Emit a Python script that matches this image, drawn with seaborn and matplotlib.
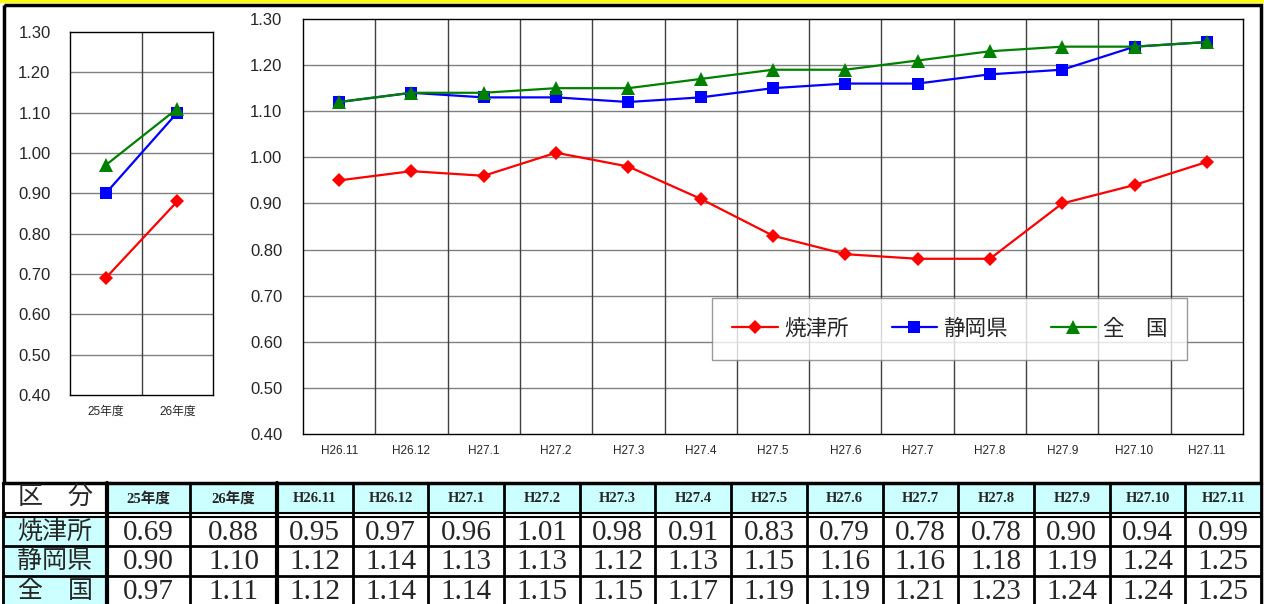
import matplotlib.pyplot as plt
import numpy as np
import pandas as pd
import seaborn as sns
from matplotlib.patches import Rectangle

series_names = ["焼津所", "静岡県", "全\u3000国"]
series_colors = ["#FF0000", "#0000FF", "#008000"]
series_markers = ["D", "s", "^"]
marker_sizes = [7.5, 8.5, 9.5]

years = ["25年度", "26年度"]
yaizu_year = [0.69, 0.88]
shizuoka_year = [0.90, 1.10]
zenkoku_year = [0.97, 1.11]

months = ["H26.11", "H26.12", "H27.1", "H27.2", "H27.3", "H27.4", "H27.5",
          "H27.6", "H27.7", "H27.8", "H27.9", "H27.10", "H27.11"]
yaizu_month = [0.95, 0.97, 0.96, 1.01, 0.98, 0.91, 0.83, 0.79, 0.78, 0.78, 0.90, 0.94, 0.99]
shizuoka_month = [1.12, 1.14, 1.13, 1.13, 1.12, 1.13, 1.15, 1.16, 1.16, 1.18, 1.19, 1.24, 1.25]
zenkoku_month = [1.12, 1.14, 1.14, 1.15, 1.15, 1.17, 1.19, 1.19, 1.21, 1.23, 1.24, 1.24, 1.25]

y_ticks = [0.40, 0.50, 0.60, 0.70, 0.80, 0.90, 1.00, 1.10, 1.20, 1.30]

sns.set_style("white")
plt.rcParams["font.family"] = ["Liberation Sans", "Noto Sans CJK JP", "DejaVu Sans"]

W, H = 1264, 604
fig = plt.figure(figsize=(W / 100, H / 100), dpi=100)

# background axes in pixel coordinates for frame + table
bg = fig.add_axes([0, 0, 1, 1])
bg.set_xlim(0, W)
bg.set_ylim(H, 0)
bg.axis("off")
bg.add_patch(Rectangle((0, 0), W, 3, color="#FFFF00", lw=0))
bg.add_patch(Rectangle((3.5, 4.5), 1257.5, 620, fill=False, ec="black", lw=2.5))


def long_frame(cats, values):
    rows = []
    for name, vals in zip(series_names, values):
        for i, (c, v) in enumerate(zip(cats, vals)):
            rows.append({"pos": i, "cat": c, "series": name, "value": v})
    return pd.DataFrame(rows)


def draw_lines(ax, df):
    sns.lineplot(data=df, x="pos", y="value", hue="series", style="series",
                 hue_order=series_names, style_order=series_names,
                 palette=series_colors, markers=series_markers, dashes=False,
                 markeredgewidth=0, linewidth=1.6, sort=False,
                 ax=ax, legend=True)
    for line, ms in zip(ax.lines, marker_sizes):
        line.set_markersize(ms)


def style_axes(ax, cats, ypad):
    n = len(cats)
    ax.set_xlim(-0.5, n - 0.5)
    ax.set_ylim(0.40, 1.30)
    ax.set_yticks(y_ticks)
    ax.set_yticklabels([f"{t:.2f}" for t in y_ticks], fontsize=12)
    ax.set_xticks(range(n))
    ax.set_xticklabels(cats, fontsize=8.5)
    ax.tick_params(axis="x", length=0, pad=8)
    ax.tick_params(axis="y", length=0, pad=ypad)
    for t in y_ticks[1:-1]:
        ax.axhline(t, color="#808080", lw=1, zorder=0)
    for b in np.arange(0.5, n - 0.5, 1):
        ax.axvline(b, color="#404040", lw=1, zorder=0)
    for s in ax.spines.values():
        s.set_color("black")
        s.set_linewidth(1)
    ax.set_xlabel("")
    ax.set_ylabel("")


# left panel: fiscal years
ax1 = fig.add_axes([70 / W, 1 - 395 / H, 143 / W, 363 / H])
draw_lines(ax1, long_frame(years, [yaizu_year, shizuoka_year, zenkoku_year]))
ax1.get_legend().remove()
style_axes(ax1, years, 14)

# right panel: months
ax2 = fig.add_axes([303 / W, 1 - 434 / H, 940 / W, 415 / H])
draw_lines(ax2, long_frame(months, [yaizu_month, shizuoka_month, zenkoku_month]))
style_axes(ax2, months, 15)
handles, labels = ax2.get_legend_handles_labels()
for h, ms in zip(handles, marker_sizes):
    h.set_markersize(ms)
leg = ax2.legend(handles, labels, loc="center", bbox_to_anchor=(0.688, 0.253),
                 ncol=3, frameon=True, fancybox=False,
                 edgecolor="#808080", handlelength=2.1, columnspacing=2.0,
                 borderpad=0.95, handletextpad=0.3, borderaxespad=0,
                 prop={"family": ["Noto Sans CJK JP"], "size": 15.5})
leg.get_frame().set_linewidth(1)
leg._legend_box.align = "center"

# table below the charts
col_edges = [3, 107, 190, 277] + [277 + (1261 - 277) * k / 13 for k in range(1, 14)]
row_edges = [483, 513, 517, 546, 576, 606]
cyan = "#CCFFFF"
header_texts = ["区\u3000分"] + years + months
table_rows = [
    [series_names[0]] + yaizu_year + yaizu_month,
    [series_names[1]] + shizuoka_year + shizuoka_month,
    [series_names[2]] + zenkoku_year + zenkoku_month,
]

# header row
for j, txt in enumerate(header_texts):
    x0, x1 = col_edges[j], col_edges[j + 1]
    face = "white" if j == 0 else cyan
    bg.add_patch(Rectangle((x0, row_edges[0]), x1 - x0, row_edges[1] - row_edges[0],
                           fc=face, ec="none"))
    if j == 0:
        bg.text((x0 + x1) / 2, 498, txt, ha="center", va="center", fontsize=18,
                family=["Noto Sans CJK JP"])
    else:
        bg.text((x0 + x1) / 2, 499, txt, ha="center", va="center", fontsize=10.5,
                fontweight="bold", family=["Liberation Serif", "Noto Sans CJK JP"])

# data rows
for i, row in enumerate(table_rows):
    y0, y1 = row_edges[i + 2], row_edges[i + 3]
    for j, val in enumerate(row):
        x0, x1 = col_edges[j], col_edges[j + 1]
        face = cyan if j == 0 else "white"
        bg.add_patch(Rectangle((x0, y0), x1 - x0, y1 - y0, fc=face, ec="none"))
        if j == 0:
            bg.text((x0 + x1) / 2, (y0 + y1) / 2, val, ha="center", va="center",
                    fontsize=18, family=["Noto Sans CJK JP"])
        else:
            bg.text((x0 + x1) / 2, (y0 + y1) / 2 + 1, f"{val:.2f}", ha="center",
                    va="center", fontsize=21, family=["Liberation Serif"])

# grid lines of the table
for x in col_edges:
    lw = 3 if x in (107, 277) else 2
    bg.plot([x, x], [row_edges[0], H], color="black", lw=lw)
bg.plot([3, 1261], [row_edges[0], row_edges[0]], color="black", lw=2.5)
bg.plot([3, 1261], [row_edges[1], row_edges[1]], color="black", lw=1.5)
bg.plot([3, 1261], [row_edges[2], row_edges[2]], color="black", lw=1.5)
for y in row_edges[3:5]:
    bg.plot([3, 1261], [y, y], color="black", lw=2)

fig.savefig("out.png", dpi=100)
plt.close(fig)
